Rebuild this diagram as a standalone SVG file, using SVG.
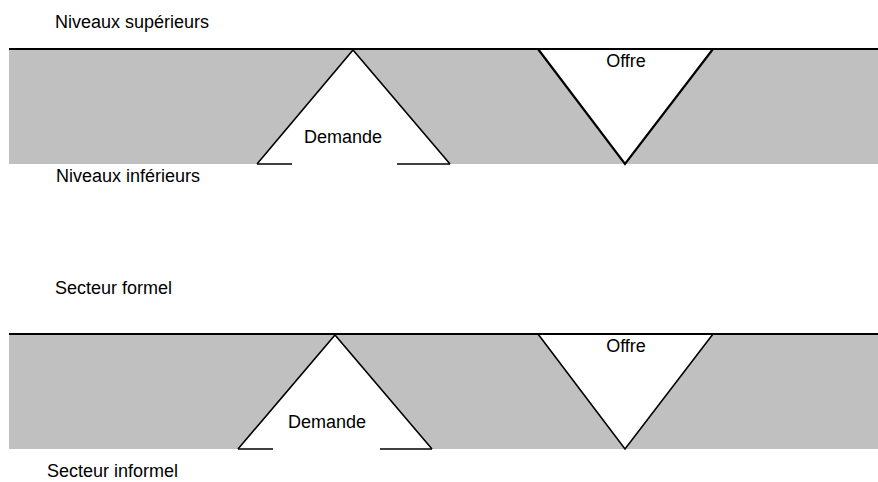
<svg xmlns="http://www.w3.org/2000/svg" width="878" height="482" viewBox="0 0 878 482">
<style>
.band{fill:#c0c0c0;stroke:none}
.edge{stroke:#000;stroke-width:2;fill:none}
.tri{fill:#fff;stroke:none}
.side{stroke:#000;stroke-width:1.6;fill:none;stroke-linejoin:miter}
.side2{stroke:#000;stroke-width:2.2;fill:none;stroke-linejoin:miter}
text{font-family:"Liberation Sans",Arial,sans-serif;font-size:18px;fill:#000}
</style>
<rect width="878" height="482" fill="#fff"/>
<g id="band-top">
<rect class="band" x="9" y="49" width="869" height="115"/>
</g>
<g id="band-bottom">
<rect class="band" x="9" y="334" width="869" height="115"/>
</g>
<g id="demande-top">
<polygon class="tri" points="353,50 257,164 450,164"/>
<polyline class="side" points="257,164 353,50 450,164"/>
<line class="side" x1="257" y1="164" x2="292" y2="164"/>
<line class="side" x1="397" y1="164" x2="450" y2="164"/>
<text x="343" y="143" text-anchor="middle">Demande</text>
</g>
<g id="offre-top">
<polygon class="tri" points="538,49 713,49 625,164"/>
<polyline class="side2" points="538,49 625,164 713,49"/>
<text x="626" y="67" text-anchor="middle">Offre</text>
</g>
<g id="demande-bottom">
<polygon class="tri" points="335,335 238,449 432,449"/>
<polyline class="side" points="238,449 335,335 432,449"/>
<line class="side" x1="238" y1="449" x2="273" y2="449"/>
<line class="side" x1="380" y1="449" x2="432" y2="449"/>
<text x="327" y="428" text-anchor="middle">Demande</text>
</g>
<g id="offre-bottom">
<polygon class="tri" points="538,334 713,334 625,449"/>
<polyline class="side" points="538,334 625,449 713,334"/>
<text x="626" y="352" text-anchor="middle">Offre</text>
</g>
<g id="connectors">
<line class="edge" x1="9" y1="49" x2="878" y2="49"/>
<line class="edge" x1="9" y1="334" x2="878" y2="334"/>
</g>
<g id="labels">
<text x="55" y="28">Niveaux supérieurs</text>
<text x="56" y="182">Niveaux inférieurs</text>
<text x="55" y="294">Secteur formel</text>
<text x="47" y="477">Secteur informel</text>
</g>
</svg>
